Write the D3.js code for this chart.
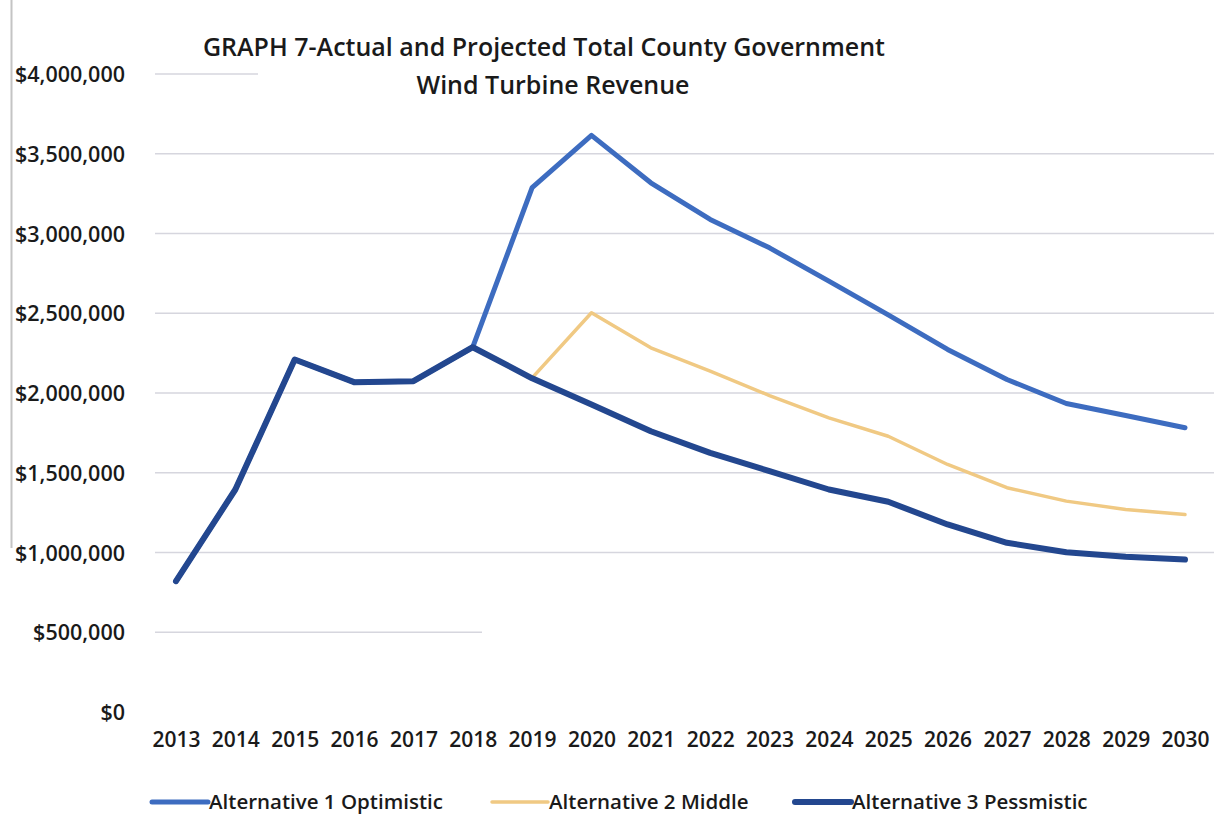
<!DOCTYPE html>
<html>
<head>
<meta charset="utf-8">
<script src="https://cdn.jsdelivr.net/npm/d3@7"></script>
<style>
  html, body { margin: 0; padding: 0; background: #fff; }
  svg text { font-family: "Open Sans", "Noto Sans", sans-serif; fill: #1a1a1a; }
</style>
</head>
<body>
<div id="chart"></div>
<script>
// Data (dollars)
const years = ["2013","2014","2015","2016","2017","2018","2019","2020","2021","2022","2023","2024","2025","2026","2027","2028","2029","2030"];
const optimistic  = [820000,1395000,2210000,2068000,2074000,2287000,3287000,3615000,3318000,3088000,2910000,2701000,2490000,2273000,2085000,1934000,1859000,1782000];
const middle      = [null,null,null,null,null,null,2095000,2503000,2283000,2137000,1984000,1844000,1729000,1552000,1406000,1322000,1270000,1238000];
const pessimistic = [820000,1395000,2210000,2068000,2074000,2287000,2092000,1928000,1760000,1625000,1510000,1395000,1318000,1176000,1061000,1002000,973000,956000];
const yTicks = [0,500000,1000000,1500000,2000000,2500000,3000000,3500000,4000000];
const seriesNames = ["Alternative 1 Optimistic", "Alternative 2 Middle", "Alternative 3 Pessmistic"];

const W = 1222, H = 817;
const colors = ["#3d6cc0", "#f0c983", "#23478f"];
const widths = [5, 3.5, 6];

const svg = d3.select("#chart").append("svg").attr("width", W).attr("height", H);

const x = d3.scalePoint().domain(years).range([176, 1185]);
const y = d3.scaleLinear().domain([0, 4000000]).range([712, 74]);

// scan edge on the left
svg.append("line").attr("x1", 11.5).attr("x2", 11.5).attr("y1", 0).attr("y2", 548)
  .attr("stroke", "#c4c4c4").attr("stroke-width", 2);

// gridlines (some are faded out in the scan)
const gridEnd = v => v === 4000000 ? 258 : v === 500000 ? 482 : 1214;
svg.append("g").selectAll("line").data(yTicks.filter(v => v > 0)).enter().append("line")
  .attr("x1", 155).attr("x2", d => gridEnd(d))
  .attr("y1", d => y(d)).attr("y2", d => y(d))
  .attr("stroke", "#d6d6de").attr("stroke-width", 1.5);

// y axis labels
const yAxis = d3.axisLeft(y).tickValues(yTicks).tickSize(0).tickPadding(0)
  .tickFormat(d => "$" + d3.format(",")(d));
const yG = svg.append("g").attr("transform", "translate(125,0)").call(yAxis);
yG.select(".domain").remove();
yG.selectAll("text").attr("dy", "0.35em").style("font-size", "21.5px").style("font-weight", 600);

// x axis labels
const xAxis = d3.axisBottom(x).tickSize(0).tickPadding(0);
const xG = svg.append("g").attr("transform", "translate(0,732)").call(xAxis);
xG.select(".domain").remove();
xG.selectAll("text").attr("dy", "0.71em").style("font-size", "21px").style("font-weight", 600);

// lines
const allSeries = [optimistic, middle, pessimistic];
const line = d3.line().defined(d => d != null).x((d, i) => x(years[i])).y(d => y(d));
svg.append("g").selectAll("path").data([0, 1, 2]).enter().append("path")
  .attr("fill", "none")
  .attr("stroke", i => colors[i])
  .attr("stroke-width", i => widths[i])
  .attr("stroke-linejoin", "round")
  .attr("stroke-linecap", "round")
  .attr("d", i => line(allSeries[i]));

// title
const title = svg.append("text").attr("text-anchor", "middle").style("font-size", "25px").style("font-weight", 600);
title.append("tspan").attr("x", 544).attr("y", 56).text("GRAPH 7-Actual and Projected Total County Government");
title.append("tspan").attr("x", 553).attr("y", 94).text("Wind Turbine Revenue");

// legend
const legendX = [152, 492, 795];
const lg = svg.append("g").attr("transform", "translate(0,802)");
seriesNames.forEach((name, i) => {
  lg.append("line").attr("x1", legendX[i]).attr("x2", legendX[i] + 56).attr("y1", 0).attr("y2", 0)
    .attr("stroke", colors[i]).attr("stroke-width", widths[i]).attr("stroke-linecap", "round");
  lg.append("text").attr("x", legendX[i] + 57).attr("y", 0).attr("dy", "0.35em")
    .style("font-size", "20.5px").style("font-weight", 600).text(name);
});
</script>
</body>
</html>
